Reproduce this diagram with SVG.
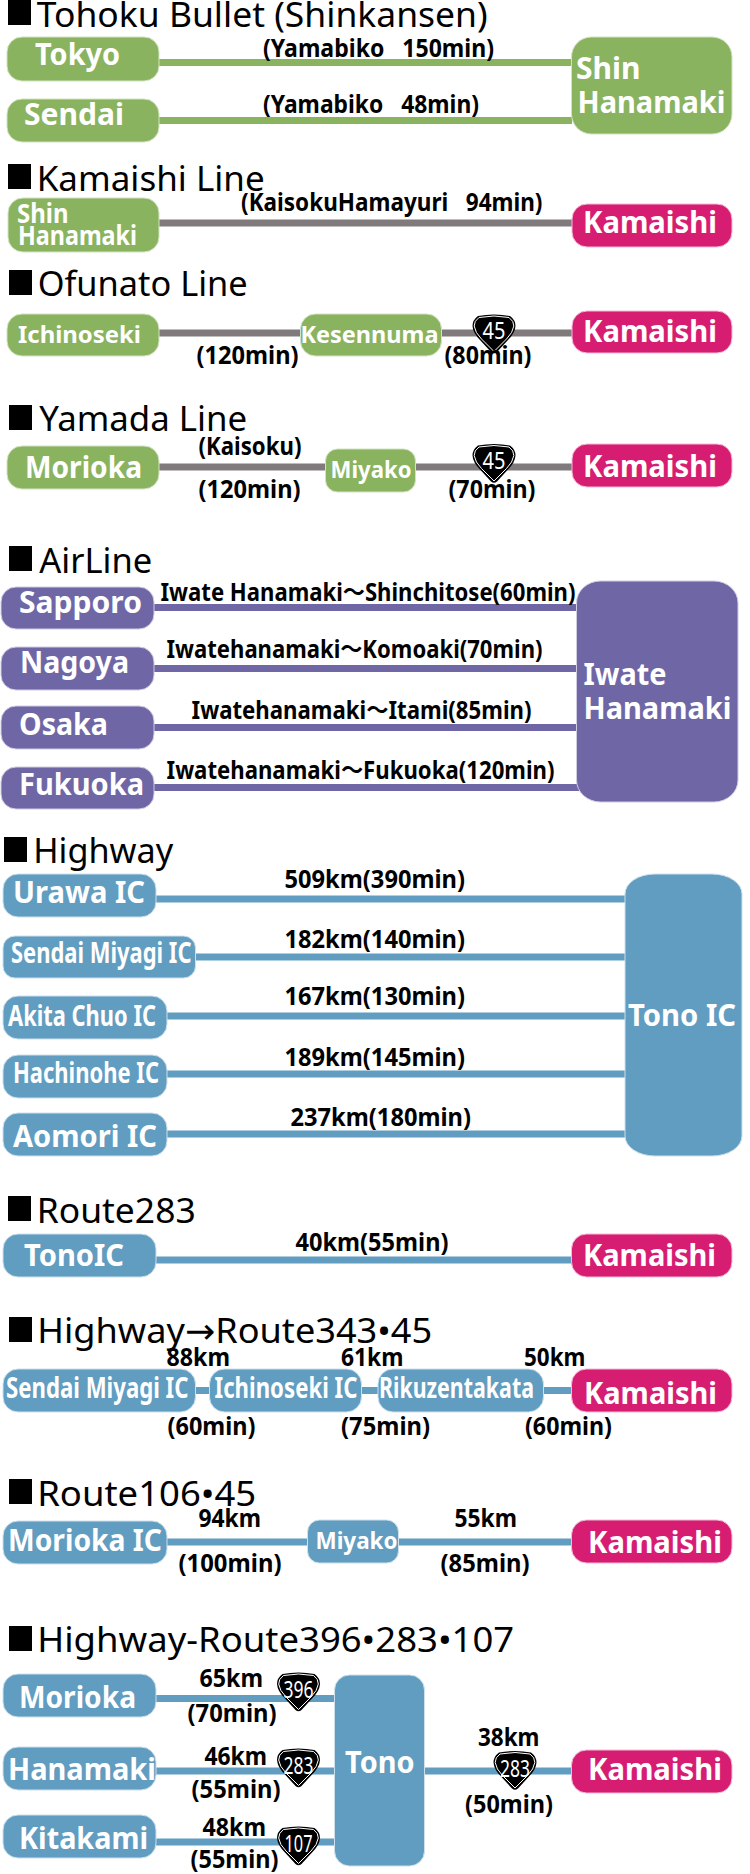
<svg xmlns="http://www.w3.org/2000/svg" width="750" height="1874" viewBox="0 0 750 1874">
<style>
text{font-family:"Noto Sans","DejaVu Sans","Noto Sans CJK JP",sans-serif}
.t{font-size:35px;fill:#000}
.m{fill:#000;stroke:none}
.l{font-size:25px;font-weight:700;fill:#000}
.n{font-size:30px;font-weight:700;fill:#fff}
.w{font-size:28px;font-weight:700;fill:#fff}
.v{font-size:26px;font-weight:700;fill:#fff}
.s{font-size:24px;font-weight:700;fill:#fff}
.g{fill:#8ab35f;stroke:#d3e2c3;stroke-width:1}
.k{fill:#d61d72;stroke:#f3bcd5;stroke-width:1}
.p{fill:#6f67a5;stroke:#cfcce2;stroke-width:1}
.b{fill:#619dc0;stroke:#cde0ec;stroke-width:1}
.cg{stroke:#8ab35f;stroke-width:7;fill:none}
.cy{stroke:#807a7d;stroke-width:7;fill:none}
.cp{stroke:#6f67a5;stroke-width:7;fill:none}
.cb{stroke:#619dc0;stroke-width:7;fill:none}
.r{font-size:24px;fill:#fff;text-anchor:middle}
</style>
<defs>
<g id="shield">
<path d="M-16,-18 Q0,-21 16,-18 Q21.5,-14 21.5,-8 Q21,-1 14,6 L3,18 Q0,20.5 -3,18 L-14,6 Q-21,-1 -21.5,-8 Q-21.5,-14 -16,-18Z" fill="#000"/>
<path d="M-15,-16.5 Q0,-19.5 15,-16.5 Q20,-13 19.8,-8 Q19,-1.5 12.5,5 L0,17.5 L-12.5,5 Q-19,-1.5 -19.8,-8 Q-20,-13 -15,-16.5Z" fill="none" stroke="#fff" stroke-width="1"/>
</g>
</defs>
<g id="connectors">
<line class="cg" x1="159" y1="62.5" x2="572" y2="62.5"/>
<line class="cg" x1="159" y1="120.5" x2="572" y2="120.5"/>
<line class="cy" x1="159" y1="223" x2="573" y2="223"/>
<line class="cy" x1="159" y1="333" x2="573" y2="333"/>
<line class="cy" x1="159" y1="467" x2="573" y2="467"/>
<line class="cp" x1="154" y1="607.5" x2="579" y2="607.5"/>
<line class="cp" x1="154" y1="668.5" x2="579" y2="668.5"/>
<line class="cp" x1="154" y1="727.5" x2="579" y2="727.5"/>
<line class="cp" x1="154" y1="787.5" x2="582" y2="787.5"/>
<line class="cb" x1="156" y1="899" x2="626" y2="899"/>
<line class="cb" x1="195" y1="957" x2="626" y2="957"/>
<line class="cb" x1="167" y1="1016" x2="626" y2="1016"/>
<line class="cb" x1="167" y1="1074" x2="626" y2="1074"/>
<line class="cb" x1="167" y1="1134" x2="626" y2="1134"/>
<line class="cb" x1="156" y1="1260" x2="572" y2="1260"/>
<line class="cb" x1="195" y1="1390.5" x2="572" y2="1390.5"/>
<line class="cb" x1="167" y1="1542" x2="572" y2="1542"/>
<line class="cb" x1="156" y1="1698.5" x2="335" y2="1698.5"/>
<line class="cb" x1="156" y1="1771" x2="335" y2="1771"/>
<line class="cb" x1="156" y1="1842" x2="335" y2="1842"/>
<line class="cb" x1="424" y1="1771" x2="572" y2="1771"/>
</g>
<g id="section-titles">
<rect class="m" x="8" y="0" width="23" height="25"/><text class="t" x="36.7" y="27" textLength="451" lengthAdjust="spacingAndGlyphs">Tohoku Bullet (Shinkansen)</text>
<rect class="m" x="8" y="164" width="23" height="25"/><text class="t" x="36.7" y="191" textLength="228" lengthAdjust="spacingAndGlyphs">Kamaishi Line</text>
<rect class="m" x="9" y="270" width="23" height="25"/><text class="t" x="37.7" y="296" textLength="210" lengthAdjust="spacingAndGlyphs">Ofunato Line</text>
<rect class="m" x="9" y="405" width="23" height="25"/><text class="t" x="39.2" y="431" textLength="208" lengthAdjust="spacingAndGlyphs">Yamada Line</text>
<rect class="m" x="9" y="546" width="23" height="25"/><text class="t" x="39.2" y="573" textLength="113" lengthAdjust="spacingAndGlyphs">AirLine</text>
<rect class="m" x="4" y="837" width="23" height="25"/><text class="t" x="33.2" y="863" textLength="140" lengthAdjust="spacingAndGlyphs">Highway</text>
<rect class="m" x="8" y="1196" width="23" height="25"/><text class="t" x="36.7" y="1223" textLength="159" lengthAdjust="spacingAndGlyphs">Route283</text>
<rect class="m" x="9" y="1317" width="23" height="25"/><text class="t" x="37.2" y="1343" textLength="395" lengthAdjust="spacingAndGlyphs">Highway→Route343•45</text>
<rect class="m" x="9" y="1479" width="23" height="25"/><text class="t" x="37.2" y="1506" textLength="219" lengthAdjust="spacingAndGlyphs">Route106•45</text>
<rect class="m" x="9" y="1626" width="23" height="25"/><text class="t" x="37.2" y="1652" textLength="477" lengthAdjust="spacingAndGlyphs">Highway-Route396•283•107</text>
</g>
<g id="n-tokyo"><rect class="g" x="7" y="37" width="152" height="44" rx="15"/><text class="n" x="35" y="65" textLength="85" lengthAdjust="spacingAndGlyphs">Tokyo</text></g>
<g id="n-sendai"><rect class="g" x="7" y="99" width="152" height="43" rx="15"/><text class="n" x="24" y="125" textLength="100" lengthAdjust="spacingAndGlyphs">Sendai</text></g>
<g id="n-shinhanamaki1"><rect class="g" x="571.5" y="37" width="160.5" height="97" rx="20"/><text class="n" x="576" y="79" textLength="64.5" lengthAdjust="spacingAndGlyphs">Shin</text><text class="n" x="577.5" y="113" textLength="148" lengthAdjust="spacingAndGlyphs">Hanamaki</text></g>
<g id="n-shinhanamaki2"><rect class="g" x="8" y="198" width="151" height="54" rx="15"/><text class="v" x="17" y="223" textLength="51.5" lengthAdjust="spacingAndGlyphs">Shin</text><text class="v" x="18" y="245" textLength="119" lengthAdjust="spacingAndGlyphs">Hanamaki</text></g>
<g id="n-kamaishi1"><rect class="k" x="572" y="204" width="160" height="43" rx="15"/><text class="n" x="583" y="233" textLength="134" lengthAdjust="spacingAndGlyphs">Kamaishi</text></g>
<g id="n-ichinoseki"><rect class="g" x="7" y="314" width="152" height="42" rx="15"/><text class="s" x="18" y="343" textLength="123" lengthAdjust="spacingAndGlyphs">Ichinoseki</text></g>
<g id="n-kesennuma"><rect class="g" x="300.5" y="314" width="141" height="42" rx="15"/><text class="s" x="300.5" y="343" textLength="138" lengthAdjust="spacingAndGlyphs">Kesennuma</text></g>
<g id="n-kamaishi2"><rect class="k" x="572" y="311" width="160" height="42" rx="15"/><text class="n" x="583" y="342" textLength="134" lengthAdjust="spacingAndGlyphs">Kamaishi</text></g>
<g id="n-morioka1"><rect class="g" x="7" y="446" width="152" height="43" rx="15"/><text class="n" x="25" y="478" textLength="117" lengthAdjust="spacingAndGlyphs">Morioka</text></g>
<g id="n-miyako1"><rect class="g" x="325.5" y="449" width="90" height="43" rx="12"/><text class="s" x="330.5" y="478" textLength="81" lengthAdjust="spacingAndGlyphs">Miyako</text></g>
<g id="n-kamaishi3"><rect class="k" x="572" y="444" width="160" height="43" rx="15"/><text class="n" x="583" y="477" textLength="134" lengthAdjust="spacingAndGlyphs">Kamaishi</text></g>
<g id="n-sapporo"><rect class="p" x="1" y="587" width="153" height="42" rx="15"/><text class="n" x="19" y="613" textLength="123" lengthAdjust="spacingAndGlyphs">Sapporo</text></g>
<g id="n-nagoya"><rect class="p" x="1" y="647" width="153" height="43" rx="15"/><text class="n" x="20" y="673" textLength="109" lengthAdjust="spacingAndGlyphs">Nagoya</text></g>
<g id="n-osaka"><rect class="p" x="1" y="706" width="153" height="43" rx="15"/><text class="n" x="19" y="735" textLength="89" lengthAdjust="spacingAndGlyphs">Osaka</text></g>
<g id="n-fukuoka"><rect class="p" x="1" y="767" width="153" height="42" rx="15"/><text class="n" x="19" y="795" textLength="125" lengthAdjust="spacingAndGlyphs">Fukuoka</text></g>
<g id="n-iwatehanamaki"><rect class="p" x="576.5" y="581" width="161.5" height="221" rx="24" ry="22"/><text class="n" x="583.5" y="685" textLength="83" lengthAdjust="spacingAndGlyphs">Iwate</text><text class="n" x="583.5" y="719" textLength="148" lengthAdjust="spacingAndGlyphs">Hanamaki</text></g>
<g id="n-urawa"><rect class="b" x="3" y="874" width="153" height="43" rx="15"/><text class="n" x="13" y="903" textLength="132" lengthAdjust="spacingAndGlyphs">Urawa IC</text></g>
<g id="n-sendaimiyagi1"><rect class="b" x="3" y="936" width="192.5" height="42" rx="12"/><text class="w" x="11" y="963" textLength="180.5" lengthAdjust="spacingAndGlyphs">Sendai Miyagi IC</text></g>
<g id="n-akita"><rect class="b" x="3" y="996" width="164" height="43" rx="15"/><text class="w" x="8" y="1026" textLength="148" lengthAdjust="spacingAndGlyphs">Akita Chuo IC</text></g>
<g id="n-hachinohe"><rect class="b" x="3" y="1055" width="164" height="43" rx="15"/><text class="w" x="13" y="1083" textLength="146" lengthAdjust="spacingAndGlyphs">Hachinohe IC</text></g>
<g id="n-aomori"><rect class="b" x="3" y="1113" width="164" height="43" rx="15"/><text class="n" x="13" y="1147" textLength="144" lengthAdjust="spacingAndGlyphs">Aomori IC</text></g>
<g id="n-tonoic"><rect class="b" x="625" y="874" width="117" height="282" rx="30" ry="20"/><text class="n" x="628" y="1026" textLength="108" lengthAdjust="spacingAndGlyphs">Tono IC</text></g>
<g id="n-tonoic2"><rect class="b" x="3" y="1234" width="153" height="43" rx="15"/><text class="n" x="24" y="1266" textLength="100" lengthAdjust="spacingAndGlyphs">TonoIC</text></g>
<g id="n-kamaishi4"><rect class="k" x="571.5" y="1234" width="160.5" height="43" rx="15"/><text class="n" x="583" y="1266" textLength="133" lengthAdjust="spacingAndGlyphs">Kamaishi</text></g>
<g id="n-sendaimiyagi2"><rect class="b" x="3" y="1369" width="192.5" height="43" rx="15"/><text class="w" x="6" y="1398" textLength="182.5" lengthAdjust="spacingAndGlyphs">Sendai Miyagi IC</text></g>
<g id="n-ichinosekiic"><rect class="b" x="209.5" y="1369" width="152" height="43" rx="15"/><text class="w" x="214.5" y="1398" textLength="143" lengthAdjust="spacingAndGlyphs">Ichinoseki IC</text></g>
<g id="n-rikuzentakata"><rect class="b" x="378" y="1369" width="165.5" height="43" rx="15"/><text class="w" x="379" y="1398" textLength="155" lengthAdjust="spacingAndGlyphs">Rikuzentakata</text></g>
<g id="n-kamaishi5"><rect class="k" x="571.5" y="1369" width="160.5" height="43" rx="15"/><text class="n" x="584" y="1404" textLength="133" lengthAdjust="spacingAndGlyphs">Kamaishi</text></g>
<g id="n-moriokaic"><rect class="b" x="3" y="1521" width="164" height="43" rx="15"/><text class="n" x="8" y="1551" textLength="154" lengthAdjust="spacingAndGlyphs">Morioka IC</text></g>
<g id="n-miyako2"><rect class="b" x="307.5" y="1520" width="91" height="43" rx="12"/><text class="s" x="315.5" y="1549" textLength="82" lengthAdjust="spacingAndGlyphs">Miyako</text></g>
<g id="n-kamaishi6"><rect class="k" x="571.5" y="1520" width="160.5" height="43" rx="15"/><text class="n" x="588" y="1553" textLength="134" lengthAdjust="spacingAndGlyphs">Kamaishi</text></g>
<g id="n-morioka2"><rect class="b" x="3" y="1674" width="153" height="43" rx="15"/><text class="n" x="19" y="1708" textLength="117" lengthAdjust="spacingAndGlyphs">Morioka</text></g>
<g id="n-hanamaki"><rect class="b" x="3" y="1747" width="153" height="43" rx="15"/><text class="n" x="8" y="1780" textLength="148" lengthAdjust="spacingAndGlyphs">Hanamaki</text></g>
<g id="n-kitakami"><rect class="b" x="3" y="1815" width="153" height="43" rx="15"/><text class="n" x="19" y="1849" textLength="129" lengthAdjust="spacingAndGlyphs">Kitakami</text></g>
<g id="n-tono"><rect class="b" x="334.5" y="1675" width="90" height="191" rx="15"/><text class="n" x="345" y="1773" textLength="69.5" lengthAdjust="spacingAndGlyphs">Tono</text></g>
<g id="n-kamaishi7"><rect class="k" x="571.5" y="1750" width="160.5" height="43" rx="15"/><text class="n" x="588" y="1780" textLength="134" lengthAdjust="spacingAndGlyphs">Kamaishi</text></g>
<g id="shield-45a"><use href="#shield" transform="translate(494,334)"/><text class="r" x="494" y="339" textLength="23" lengthAdjust="spacingAndGlyphs">45</text></g>
<g id="shield-45b"><use href="#shield" transform="translate(494,463.5)"/><text class="r" x="494" y="468.5" textLength="23" lengthAdjust="spacingAndGlyphs">45</text></g>
<g id="shield-396"><use href="#shield" transform="translate(298.5,1692)"/><text class="r" x="298.5" y="1698" textLength="30" lengthAdjust="spacingAndGlyphs">396</text></g>
<g id="shield-283a"><use href="#shield" transform="translate(298.5,1768)"/><text class="r" x="298.5" y="1774" textLength="30" lengthAdjust="spacingAndGlyphs">283</text></g>
<g id="shield-107"><use href="#shield" transform="translate(298.5,1846)"/><text class="r" x="298.5" y="1852" textLength="28" lengthAdjust="spacingAndGlyphs">107</text></g>
<g id="shield-283b"><use href="#shield" transform="translate(515,1770.5)"/><text class="r" x="515" y="1776.5" textLength="30" lengthAdjust="spacingAndGlyphs">283</text></g>
<g id="labels">
<text class="l" xml:space="preserve" x="263" y="57" textLength="231" lengthAdjust="spacingAndGlyphs">(Yamabiko   150min)</text>
<text class="l" xml:space="preserve" x="263" y="113" textLength="216" lengthAdjust="spacingAndGlyphs">(Yamabiko   48min)</text>
<text class="l" xml:space="preserve" x="241" y="211" textLength="301.5" lengthAdjust="spacingAndGlyphs">(KaisokuHamayuri   94min)</text>
<text class="l" x="196.5" y="364" textLength="102" lengthAdjust="spacingAndGlyphs">(120min)</text>
<text class="l" x="444.5" y="364" textLength="87" lengthAdjust="spacingAndGlyphs">(80min)</text>
<text class="l" x="198.5" y="455" textLength="103" lengthAdjust="spacingAndGlyphs">(Kaisoku)</text>
<text class="l" x="198.5" y="498" textLength="102" lengthAdjust="spacingAndGlyphs">(120min)</text>
<text class="l" x="448.5" y="498" textLength="87" lengthAdjust="spacingAndGlyphs">(70min)</text>
<text class="l" x="160.5" y="601" textLength="415" lengthAdjust="spacingAndGlyphs">Iwate Hanamaki～Shinchitose(60min)</text>
<text class="l" x="166.5" y="658" textLength="376" lengthAdjust="spacingAndGlyphs">Iwatehanamaki～Komoaki(70min)</text>
<text class="l" x="191.5" y="719" textLength="340" lengthAdjust="spacingAndGlyphs">Iwatehanamaki～Itami(85min)</text>
<text class="l" x="166.5" y="779" textLength="388" lengthAdjust="spacingAndGlyphs">Iwatehanamaki～Fukuoka(120min)</text>
<text class="l" x="284.5" y="888" textLength="180.5" lengthAdjust="spacingAndGlyphs">509km(390min)</text>
<text class="l" x="284.5" y="948" textLength="180.5" lengthAdjust="spacingAndGlyphs">182km(140min)</text>
<text class="l" x="284.5" y="1005" textLength="180.5" lengthAdjust="spacingAndGlyphs">167km(130min)</text>
<text class="l" x="284.5" y="1066" textLength="180.5" lengthAdjust="spacingAndGlyphs">189km(145min)</text>
<text class="l" x="290.5" y="1126" textLength="180.5" lengthAdjust="spacingAndGlyphs">237km(180min)</text>
<text class="l" x="295.5" y="1251" textLength="153" lengthAdjust="spacingAndGlyphs">40km(55min)</text>
<text class="l" x="166.5" y="1366" textLength="63.5" lengthAdjust="spacingAndGlyphs">88km</text>
<text class="l" x="341" y="1366" textLength="62.5" lengthAdjust="spacingAndGlyphs">61km</text>
<text class="l" x="524" y="1366" textLength="61.5" lengthAdjust="spacingAndGlyphs">50km</text>
<text class="l" x="167.5" y="1435" textLength="88" lengthAdjust="spacingAndGlyphs">(60min)</text>
<text class="l" x="341" y="1435" textLength="89" lengthAdjust="spacingAndGlyphs">(75min)</text>
<text class="l" x="525" y="1435" textLength="87" lengthAdjust="spacingAndGlyphs">(60min)</text>
<text class="l" x="198.5" y="1527" textLength="62.5" lengthAdjust="spacingAndGlyphs">94km</text>
<text class="l" x="454.5" y="1527" textLength="62.5" lengthAdjust="spacingAndGlyphs">55km</text>
<text class="l" x="178.5" y="1572" textLength="103" lengthAdjust="spacingAndGlyphs">(100min)</text>
<text class="l" x="440.5" y="1572" textLength="89" lengthAdjust="spacingAndGlyphs">(85min)</text>
<text class="l" x="199.5" y="1687" textLength="63.5" lengthAdjust="spacingAndGlyphs">65km</text>
<text class="l" x="187.5" y="1722" textLength="89" lengthAdjust="spacingAndGlyphs">(70min)</text>
<text class="l" x="204.5" y="1765" textLength="62.5" lengthAdjust="spacingAndGlyphs">46km</text>
<text class="l" x="191.5" y="1798" textLength="89" lengthAdjust="spacingAndGlyphs">(55min)</text>
<text class="l" x="202.5" y="1836" textLength="63.5" lengthAdjust="spacingAndGlyphs">48km</text>
<text class="l" x="190.5" y="1868" textLength="88" lengthAdjust="spacingAndGlyphs">(55min)</text>
<text class="l" x="478" y="1746" textLength="61.5" lengthAdjust="spacingAndGlyphs">38km</text>
<text class="l" x="465" y="1813" textLength="88" lengthAdjust="spacingAndGlyphs">(50min)</text>
</g>
</svg>
